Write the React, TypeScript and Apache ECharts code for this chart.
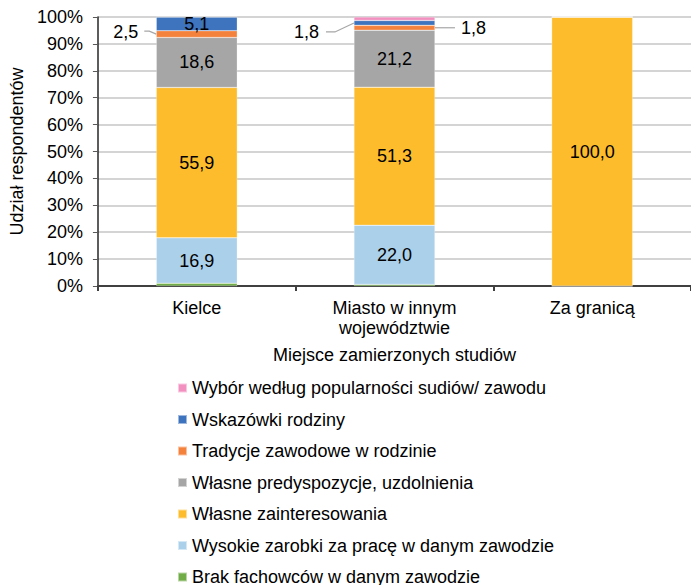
import React, { useEffect, useRef } from "react";
import * as echarts from "echarts";

const categories = ["Kielce", "Miasto w innym\nwojewództwie", "Za granicą"];
const seriesNames = [
  "Brak fachowców w danym zawodzie",
  "Wysokie zarobki za pracę w danym zawodzie",
  "Własne zainteresowania",
  "Własne predyspozycje, uzdolnienia",
  "Tradycje zawodowe w rodzinie",
  "Wskazówki rodziny",
  "Wybór według popularności sudiów/ zawodu",
];
const brakFachowcow = [1.0, 0.6, 0];
const wysokieZarobki = [16.9, 22.0, 0];
const zainteresowania = [55.9, 51.3, 100.0];
const predyspozycje = [18.6, 21.2, 0];
const tradycje = [2.5, 1.8, 0];
const wskazowki = [5.1, 1.8, 0];
const popularnosc = [0, 1.3, 0];
const seriesValues = [brakFachowcow, wysokieZarobki, zainteresowania, predyspozycje, tradycje, wskazowki, popularnosc];
const yTicks = [0, 10, 20, 30, 40, 50, 60, 70, 80, 90, 100];

const colors = ["#70ad47", "#abd0ea", "#fdbc2c", "#a6a6a6", "#f4823c", "#3e73bd", "#f291c0"];
const FONT = "Liberation Sans, Arial, sans-serif";
const FS = 18;
const BAR_W = 81;

// outside labels keyed by "seriesIndex-dataIndex"
const outsideLabels: Record<string, { position: string; distance: number; offset: number[]; line: number[][] }> = {
  "4-0": { position: "left", distance: 18, offset: [0, -2], line: [[-12, -3], [-7, -3], [0, 0]] },
  "5-1": { position: "left", distance: 35, offset: [0, 9], line: [[-28, 9], [-19, 9], [0, 0]] },
  "4-1": { position: "right", distance: 26, offset: [0, 0], line: [[0, 0], [20, 0]] },
};

const fmt = (v: number) => v.toFixed(1).replace(".", ",");

export default function App() {
  const ref = useRef<HTMLDivElement>(null);
  useEffect(() => {
    document.body.style.margin = "0";
    const chart = echarts.init(ref.current!, null, { renderer: "svg" });
    const series = seriesValues.map((vals, si) => ({
      name: seriesNames[si],
      type: "bar",
      stack: "total",
      barWidth: BAR_W,
      itemStyle: { color: colors[si], borderColor: "rgba(255,255,255,0.5)", borderWidth: 0.5 },
      label: {
        show: false,
        color: "#000",
        fontSize: FS,
        fontFamily: FONT,
        formatter: (p: any) => fmt(p.value),
      },
      data: vals.map((v, di) => {
        const o = outsideLabels[`${si}-${di}`];
        if (o) {
          return {
            value: v,
            label: { show: true, position: o.position, distance: o.distance, offset: o.offset },
          };
        }
        return { value: v, label: { show: v >= 5, position: "inside" } };
      }),
    }));
    chart.setOption({
      animation: false,
      textStyle: { fontFamily: FONT },
      grid: { left: 94, right: -6, top: 17, bottom: 299, containLabel: false },
      legend: {
        orient: "vertical",
        left: 177,
        top: 378,
        height: 400,
        padding: 0,
        itemWidth: 9,
        itemHeight: 9,
        itemGap: 11.5,
        icon: "rect",
        data: seriesNames.slice().reverse(),
        textStyle: { fontSize: FS, color: "#000", fontFamily: FONT, lineHeight: 20 },
        selectedMode: false,
      },
      xAxis: {
        type: "category",
        data: categories,
        name: "Miejsce zamierzonych studiów",
        nameLocation: "middle",
        nameGap: 60,
        nameTextStyle: { fontSize: FS, color: "#000", fontFamily: FONT },
        axisLine: { lineStyle: { color: "#404040", width: 2 } },
        axisTick: { show: true, length: 5, lineStyle: { color: "#404040", width: 2 } },
        axisLabel: { fontSize: FS, color: "#000", margin: 12, lineHeight: 20, fontFamily: FONT },
      },
      yAxis: {
        type: "value",
        min: 0,
        max: 100,
        interval: 10,
        name: "Udział respondentów",
        nameLocation: "middle",
        nameGap: 67,
        nameTextStyle: { fontSize: FS, color: "#000", fontFamily: FONT },
        axisLine: { show: true, lineStyle: { color: "#262626", width: 1.5 } },
        axisTick: { show: true, length: 5, lineStyle: { color: "#595959", width: 1 } },
        axisLabel: {
          fontSize: FS,
          color: "#000",
          margin: 15,
          fontFamily: FONT,
          formatter: (v: number) => (yTicks.includes(v) ? `${v}%` : ""),
        },
        splitLine: { lineStyle: { color: "#d4d4d4", width: 2 } },
      },
      series,
    });

    // leader lines derived from the chart's own scales
    const graphics: any[] = [];
    Object.keys(outsideLabels).forEach((key) => {
      const [si, di] = key.split("-").map(Number);
      let below = 0;
      for (let k = 0; k < si; k++) below += seriesValues[k][di];
      const mid = below + seriesValues[si][di] / 2;
      const p = chart.convertToPixel({ xAxisIndex: 0, yAxisIndex: 0 }, [di, mid]) as number[];
      const o = outsideLabels[key];
      const edgeX = o.position === "left" ? p[0] - BAR_W / 2 : p[0] + BAR_W / 2;
      graphics.push({
        type: "polyline",
        silent: true,
        z: 10,
        shape: { points: o.line.map(([dx, dy]) => [edgeX + dx, p[1] + dy]) },
        style: { stroke: "#a6a6a6", lineWidth: 1.2, fill: "none" },
      });
    });
    chart.setOption({ graphic: graphics });
    return () => chart.dispose();
  }, []);
  return <div ref={ref} style={{ width: 691, height: 585 }} />;
}
